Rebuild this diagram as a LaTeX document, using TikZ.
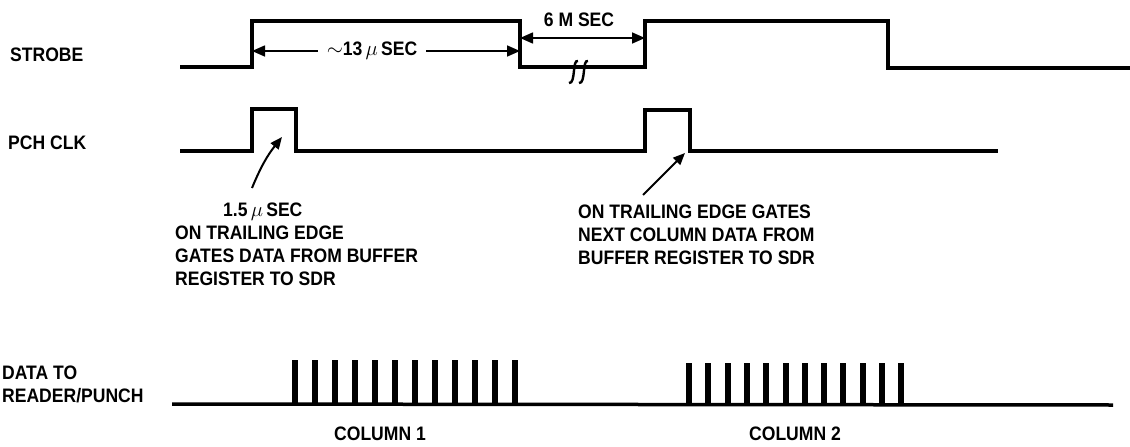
\documentclass[tikz,border=0pt]{standalone}
\usepackage{fontspec}
\setmainfont[FakeStretch=0.9]{Liberation Sans}
\usetikzlibrary{arrows.meta}

\tikzset{
  wave/.style={line width=3.5pt},
  bit/.style={line width=6pt},
  lbl/.style={font=\fontsize{19.5}{23}\selectfont\bfseries, inner sep=0pt, anchor=north west, align=left},
  dim/.style={line width=1.6pt, -{Triangle[length=13pt,width=11pt]}},
  pointer/.style={line width=2pt, -{Triangle[length=12pt,width=10pt]}}
}

\begin{document}
\begin{tikzpicture}[x=1pt,y=-1pt]
  \useasboundingbox (0,0) rectangle (1130,447);
  % signal names
  \node[lbl] (strobe) at (10,48) {STROBE};
  \node[lbl] (pchclk) at (8,136) {PCH CLK};
  \node[lbl] (data) at (2,366) {DATA TO\\READER/PUNCH};
  % strobe
  \coordinate (s1) at (252,21); \coordinate (s2) at (520,21); \coordinate (s3) at (645,21);
  \draw[wave] (180,67) -| (s1) -- (s2) |- (645,67) -- (s3) -- (888,21) |- (1130,68);
  \foreach \x in {573,583} \draw[line width=2.4pt] (\x+5,61) .. controls (\x-1,59) and (\x+3,84) .. (\x-4,83);
  \node[lbl,anchor=center] (t13) at (372,51) {$\sim$13\,$\mu$\,SEC};
  \draw[dim,shorten <=9pt] (t13.west) -- (t13.west -| s1);
  \draw[dim,shorten <=9pt] (t13.east) -- (t13.east -| s2);
  \coordinate (m1) at (520,38); \coordinate (m2) at (645,38);
  \draw[dim,{Triangle[length=13pt,width=11pt]}-{Triangle[length=13pt,width=11pt]}] (m1) -- (m2);
  \node[lbl,anchor=base] (t6) at (579,27) {6 M SEC};
  % pch clk
  \draw[wave] (180,151) -| (252,109) -| (296,151) -| (645,110) -| (690,151) -- (998,151);
  \node[lbl] (note1) at (175,203) {\hspace*{48pt}1.5\,$\mu$\,SEC\\ON TRAILING EDGE\\GATES DATA FROM BUFFER\\REGISTER TO SDR};
  \node[lbl] (note2) at (578,205) {ON TRAILING EDGE GATES\\NEXT COLUMN DATA FROM\\BUFFER REGISTER TO SDR};
  \coordinate (tail1) at (252,188); \coordinate (tip1) at (282,137);
  \coordinate (tail2) at (643,195); \coordinate (tip2) at (685,153);
  \draw[pointer] (tail1) to[bend left=8] (tip1);
  \draw[pointer] (tail2) -- (tip2);
  % data
  \draw[wave] (172,404) -- (1113,405);
  \foreach \i in {0,...,11} \draw[bit] (295+20*\i,404) -- (295+20*\i,360);
  \foreach \i in {0,...,11} \draw[bit] (689+19.3*\i,405) -- (689+19.3*\i,363);
  \node[lbl,anchor=base] (col1) at (380,440) {COLUMN 1};
  \node[lbl,anchor=base] (col2) at (795,440) {COLUMN 2};
\end{tikzpicture}
\end{document}
